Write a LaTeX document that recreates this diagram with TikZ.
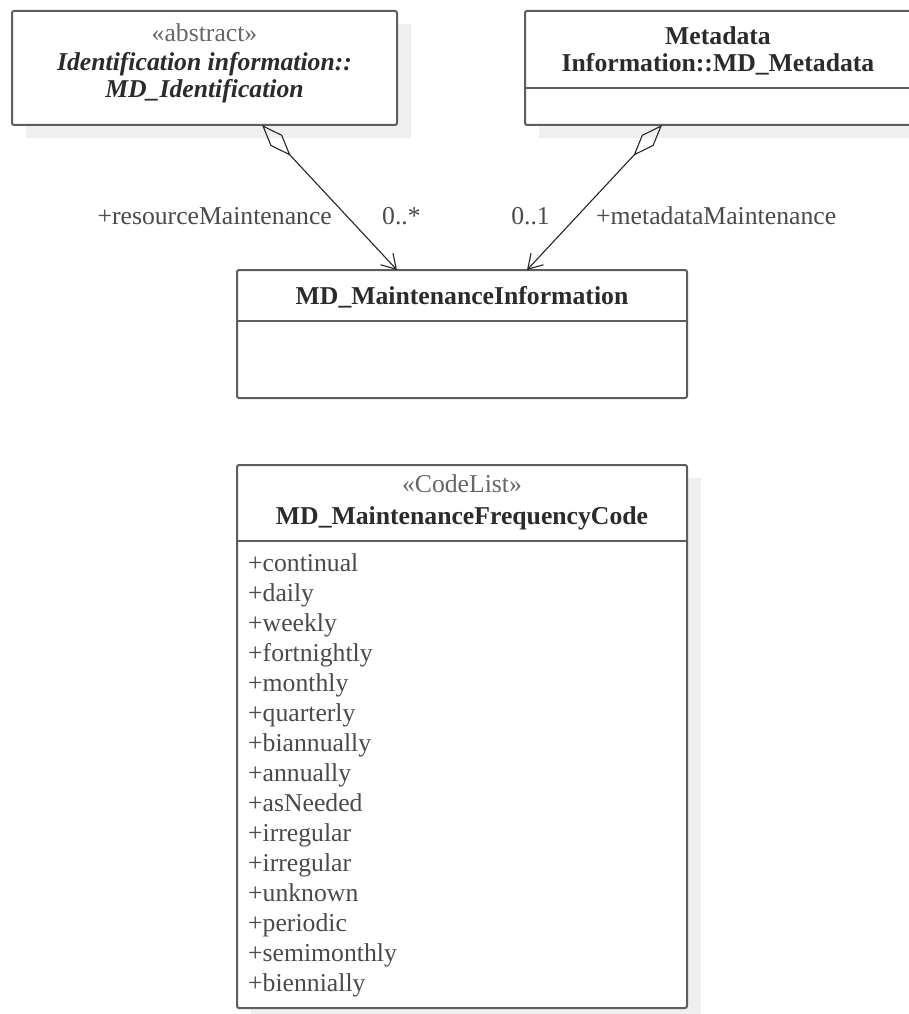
\documentclass[tikz,border=0pt]{standalone}
\usepackage{fontspec}
\setmainfont{Liberation Serif}
\usetikzlibrary{arrows.meta}
\definecolor{bordergray}{HTML}{5E5E5E}
\definecolor{shadowgray}{HTML}{EFEFEF}
\definecolor{txtdark}{HTML}{2B2B2B}
\definecolor{txtmid}{HTML}{4A4A4A}
\definecolor{txtlight}{HTML}{666666}
\begin{document}
\begin{tikzpicture}[x=1pt,y=-1pt,
  umlbox/.style={draw=bordergray, line width=2pt, rounded corners=2pt, fill=white, inner sep=0pt, outer sep=0pt, anchor=north west},
  divider/.style={draw=bordergray, line width=2pt},
  shadowfill/.style={fill=shadowgray, draw=none},
  txt/.style={inner sep=0pt, anchor=base, font=\fontsize{25.7}{30}\selectfont, text=txtdark},
  stereo/.style={txt, text=txtlight},
  titletxt/.style={txt, font=\fontsize{25.7}{30}\selectfont\bfseries},
  abstracttxt/.style={txt, font=\fontsize{25.7}{30}\selectfont\bfseries\itshape},
  itemtxt/.style={txt, anchor=base west, text=txtmid},
  roletxt/.style={txt, text=txtmid},
  conn/.style={draw=black!85, line width=1.1pt,
    {Kite[open,length=42pt,width=16pt,inset=21pt,line width=1.1pt]}-{Straight Barb[length=14pt,width=17pt,line width=1.1pt]}}
]
\clip (0,0) rectangle (909,1014);
\fill[white] (0,0) rectangle (909,1014);

% shadows
\fill[shadowfill] (26,24) rectangle (411,138);
\fill[shadowfill] (539,24) rectangle (925,138);
\fill[shadowfill] (251,478) rectangle (701,1021);

% boxes
\node[umlbox, minimum width=385pt, minimum height=114pt] (idbox) at (12,11) {};
\node[umlbox, minimum width=386pt, minimum height=114pt] (mdbox) at (525,11) {};
\node[umlbox, minimum width=450pt, minimum height=128pt] (mibox) at (237,270) {};
\node[umlbox, minimum width=450pt, minimum height=543pt] (fcbox) at (237,465) {};

% dividers
\draw[divider] ([yshift=-77pt]mdbox.north west) -- ([yshift=-77pt]mdbox.north east);
\draw[divider] ([yshift=-51pt]mibox.north west) -- ([yshift=-51pt]mibox.north east);
\draw[divider] ([yshift=-76pt]fcbox.north west) -- ([yshift=-76pt]fcbox.north east);

% box texts
\node[stereo] (idst) at (204.5,42) {«abstract»};
\node[abstracttxt] (idn1) at (204.5,71) {Identification information::};
\node[abstracttxt] (idn2) at (204.5,98) {MD\_Identification};

\node[titletxt] (mdn1) at (718,45) {Metadata};
\node[titletxt] (mdn2) at (718,72) {Information::MD\_Metadata};

\node[titletxt] (min) at (462,304) {MD\_MaintenanceInformation};

\node[stereo] (fcst) at (462,492) {«CodeList»};
\node[titletxt] (fcn) at (462,524) {MD\_MaintenanceFrequencyCode};

\foreach \t [count=\i from 0] in {continual,daily,weekly,fortnightly,monthly,quarterly,biannually,annually,asNeeded,irregular,irregular,unknown,periodic,semimonthly,biennially}{
  \node[itemtxt] (item\i) at (248,{571+30.07*\i}) {+\t};
}

% connectors
\draw[conn] ([xshift=250pt]idbox.south west) -- ([xshift=160pt]mibox.north west);
\draw[conn] ([xshift=137pt]mdbox.south west) -- ([xshift=290pt]mibox.north west);

% role labels
\node[roletxt, anchor=base east] (r1) at (332,224) {+resourceMaintenance};
\node[roletxt, anchor=base west] (m1) at (382,224) {0..*};
\node[roletxt, anchor=base east] (m2) at (550,224) {0..1};
\node[roletxt, anchor=base west] (r2) at (596,224) {+metadataMaintenance};
\end{tikzpicture}
\end{document}
